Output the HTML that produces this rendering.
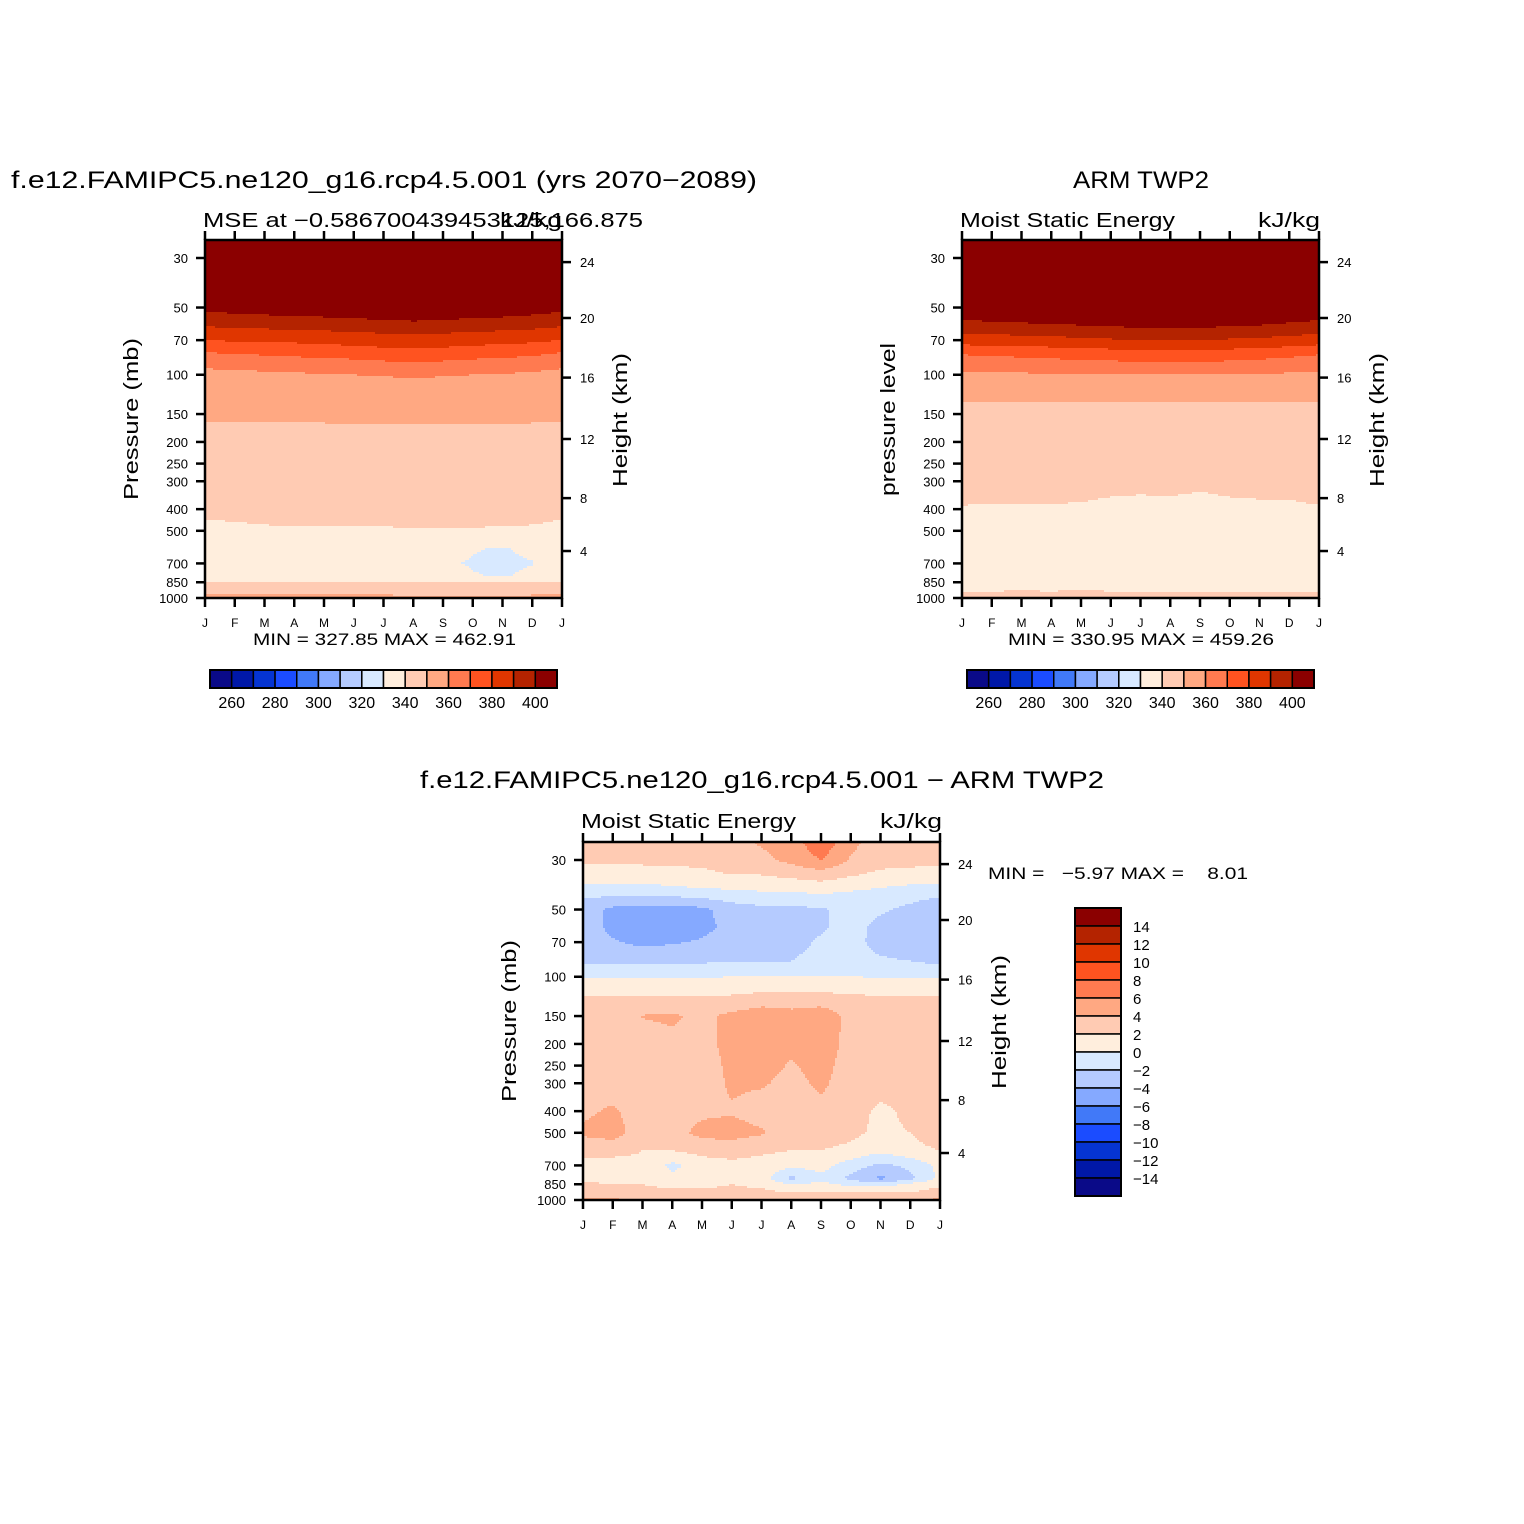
<!DOCTYPE html>
<html><head><meta charset="utf-8"><style>
html,body{margin:0;padding:0;background:#fff;}
svg{display:block;}
text{font-family:"Liberation Sans","DejaVu Sans",sans-serif;fill:#000;}
</style></head><body>
<svg id="root" width="1524" height="1524" viewBox="0 0 1524 1524" xmlns="http://www.w3.org/2000/svg">
<rect width="1524" height="1524" fill="#fff"/>
<text x="11" y="188" font-size="24" textLength="746" lengthAdjust="spacingAndGlyphs">f.e12.FAMIPC5.ne120_g16.rcp4.5.001 (yrs 2070−2089)</text>
<text x="203" y="227" font-size="20" textLength="440" lengthAdjust="spacingAndGlyphs">MSE at −0.586700439453125,166.875</text>
<text x="500" y="227" font-size="20" textLength="62" lengthAdjust="spacingAndGlyphs">kJ/kg</text>
<text x="0" y="0" font-size="20" textLength="162" lengthAdjust="spacingAndGlyphs" transform="translate(138,500) rotate(-90)">Pressure (mb)</text>
<text x="0" y="0" font-size="20" textLength="134" lengthAdjust="spacingAndGlyphs" transform="translate(627,487) rotate(-90)">Height (km)</text>
<text x="253" y="645" font-size="17" textLength="263" lengthAdjust="spacingAndGlyphs">MIN = 327.85 MAX = 462.91</text>
<text x="1073" y="188" font-size="24" textLength="136" lengthAdjust="spacingAndGlyphs">ARM TWP2</text>
<text x="960" y="227" font-size="20" textLength="215" lengthAdjust="spacingAndGlyphs">Moist Static Energy</text>
<text x="1258" y="227" font-size="20" textLength="62" lengthAdjust="spacingAndGlyphs">kJ/kg</text>
<text x="0" y="0" font-size="20" textLength="153" lengthAdjust="spacingAndGlyphs" transform="translate(895,496) rotate(-90)">pressure level</text>
<text x="0" y="0" font-size="20" textLength="134" lengthAdjust="spacingAndGlyphs" transform="translate(1384,487) rotate(-90)">Height (km)</text>
<text x="1008" y="645" font-size="17" textLength="266" lengthAdjust="spacingAndGlyphs">MIN = 330.95 MAX = 459.26</text>
<text x="420" y="788" font-size="24" textLength="684" lengthAdjust="spacingAndGlyphs">f.e12.FAMIPC5.ne120_g16.rcp4.5.001 − ARM TWP2</text>
<text x="581" y="828" font-size="20" textLength="215" lengthAdjust="spacingAndGlyphs">Moist Static Energy</text>
<text x="880" y="828" font-size="20" textLength="62" lengthAdjust="spacingAndGlyphs">kJ/kg</text>
<text x="0" y="0" font-size="20" textLength="162" lengthAdjust="spacingAndGlyphs" transform="translate(516,1102) rotate(-90)">Pressure (mb)</text>
<text x="0" y="0" font-size="20" textLength="134" lengthAdjust="spacingAndGlyphs" transform="translate(1006,1089) rotate(-90)">Height (km)</text>
<text x="988" y="879" font-size="17" textLength="260" lengthAdjust="spacingAndGlyphs" xml:space="preserve">MIN =   −5.97 MAX =    8.01</text>
<g id="layer"></g>
</svg>
<script>
const NS="http://www.w3.org/2000/svg";
const months=["J","F","M","A","M","J","J","A","S","O","N","D","J"];
const pTicks=[30,50,70,100,150,200,250,300,400,500,700,850,1000];
const hTicks=[4,8,12,16,20,24];
const hTickP=[616,357,194,103,55.7,31.3];
const colors=["#0a0a88","#0018a8","#0534d2","#1b4cff","#4179f8","#85a9ff","#b5cbff","#d8e9ff","#ffeedd","#ffcbb3","#ffa882","#ff7a50","#ff5320","#e03600","#b42300","#8b0000"];
const mseBounds=[260,270,280,290,300,310,320,330,340,350,360,370,380,390,400];
const mseLabels=["260","280","300","320","340","360","380","400"];
const diffBounds=[-14,-12,-10,-8,-6,-4,-2,0,2,4,6,8,10,12,14];
const diffLabels=["14","12","10","8","6","4","2","0","−2","−4","−6","−8","−10","−12","−14"];

const levelsA=[25,30,40,50,60,70,80,90,100,125,150,200,300,400,500,600,700,800,850,925,1000];
const model=[
[470,470,470,470,470,470,470,470,470,470,470,470,470],
[450,450,450,450,450,450,450,450,450,450,450,450,450],
[425,425,425,425,425,425,426,426,426,425,425,425,425],
[403,404,405,406,407,408,409,410,409,408,407,405,403],
[391,392,393,393,394,395,396,397,396,395,394,393,391],
[380,381,381,382,383,384,385,386,385,384,383,382,380],
[369.5,370.5,371.5,372.5,373.5,374.5,376,377,376,374.5,373.5,372,369.5],
[362,362.8,363.6,364.5,365.3,366,367.3,368,367.3,366,365.3,364,362],
[357,357.6,358.2,358.8,359.4,360,360.6,361,360.6,360,359.4,358.5,357],
[353,353.2,353.3,353.4,353.5,353.6,353.8,354,353.8,353.7,353.5,353.3,353],
[350.6,350.7,350.7,350.7,350.8,350.9,351,351,351,350.9,350.9,350.8,350.6],
[348.3,348.3,348.3,348.3,348.3,348.3,348.3,348.3,348.3,348.3,348.3,348.3,348.3],
[344.5,344.5,344.5,344.5,344.5,344.5,344.5,344.5,344.5,344.5,344.5,344.5,344.5],
[341,341.4,341.8,342,341.9,342,342.2,342.2,342.6,342.6,342.5,342.1,341],
[338.8,339,339.3,339.5,339.4,339.4,339.5,339.6,339.5,339.5,339.4,339.2,338.8],
[336,336,336,336,336,336,335,334,333,330.3,329.6,331,336],
[333.5,333.5,333,333,333,333,332,329.9,330.5,329.6,329.2,329.8,333.5],
[337,337,336.5,336.5,336.5,336.5,336,335,333,330.3,329.6,331,337],
[340.3,340.5,340.5,340.4,340.5,340.4,340.2,340,339.8,339.9,340,340.1,340.4],
[346,346,346,346,346,346,345,343,343,343,343,344,346],
[356,355.5,355.5,355.5,355.5,355,354,353,353,353,353,354,356]];

const obs=[
[470,470,470,470,470,470,470,470,470,470,470,470,470],
[450,450,450,450,450,450,450,450,450,450,450,450,450],
[425,425,425,425,426,426,427,427,427,426,426,425,425],
[410,411,412,413,414,415,416,416,416,415,414,412,410],
[396,397,398,399,400,401,402,402,402,401,400,398,396],
[385,386,386,387,388,389,390,390,390,389,388,387,385],
[371,372,373,374,375,376,377,377,377,376,375,373,371],
[364,364,365,366,366,367,368,368,368,367,366,365,364],
[358.5,358.7,358.9,359,359.2,359.5,359.8,360,359.8,359.5,359.2,358.9,358.5],
[350.5,350.5,350.5,350.5,350.5,350.5,350.5,350.5,350.5,350.5,350.5,350.5,350.5],
[349,349,349,349,349,349,349,349,349,349,349,349,349],
[347,347,347,347,347,347,347,347,347,347,347,347,347],
[343,342.8,342.6,342.7,342.4,341.6,341.4,341.6,341,341.7,341.8,341.8,343],
[339.5,339.4,339.3,339.4,339.2,338.7,338.5,338.6,338.3,338.7,339,339,339.5],
[338,338,338,338,338,338,338,338,338,338,338,338,338],
[337,337,337,337,337,337,337,337,337,337,337,337,337],
[336,336,336,336,336,336,336,336,336,336,336,336,336],
[337,337,337,337,337,337,337,337,337,337,337,337,337],
[338,338,338,338,338,338,338,338,338,338,338,338,338],
[339.7,339.8,339.9,339.8,340,339.8,339.8,339.8,339.7,339.8,339.8,339.7,339.7],
[342,342,342,342,342,342,342,342,342,342,342,342,342]];

const levelsC=[25,30,35,40,45,50,60,70,85,95,110,130,150,200,300,400,500,600,700,800,850,925,1000];
const diff=[
[3,3,3,3,3,3.5,4.2,5,7.5,4.5,3,3,3],
[2.5,2.5,2.5,2.5,2.6,3,3.5,4.5,6,3.8,2.8,2.5,2.5],
[1,1,1,1.2,1.5,2,2,2.5,3,2.2,1.5,1.5,1],
[-0.5,-0.5,-0.5,-0.2,0,0.3,0.5,0.6,1,0.5,0,-0.5,-0.5],
[-2.2,-2.5,-2.6,-2.6,-2.2,-1.5,-1.2,-1.2,-0.8,-1.2,-1.5,-1.8,-2.2],
[-3,-4.5,-5,-5,-4.5,-3,-2.5,-2.5,-2.2,-1.5,-1.8,-2.3,-2.5],
[-3,-4.5,-5,-5,-4.5,-3.5,-2.6,-2.5,-2.2,-1.5,-2.4,-3.5,-3],
[-3,-3.8,-4.5,-4.2,-3.8,-3,-2.5,-2.5,-1.8,-1.5,-2.5,-3,-3],
[-2.5,-2.5,-2.5,-2.5,-2.3,-2.2,-2.1,-2,-1.5,-1.5,-1.8,-2,-2.5],
[-1,-1,-1,-1,-0.8,-0.5,-0.3,-0.3,-0.3,-0.5,-0.7,-0.8,-1],
[1,1,1,1,1,1,1,1,1,1,1,1,1],
[2.6,2.6,2.6,2.6,2.6,2.8,3.5,3.5,3.5,3,2.6,2.6,2.6],
[3,3,4.1,4.3,3.5,4.5,5,4.5,5,3.5,3,3,3],
[3,3,3,3.5,3.5,4.5,5,4.3,4.8,3.5,3,3,3],
[3,3,3,3,3,4.3,4.2,3.5,4.3,3.2,3,3,3],
[3.6,4.3,3,3,3.6,3.8,3.2,3,3.6,3,1.5,2.5,3],
[4.4,4.8,3,3.2,4.6,4.8,4.2,3,3,2.5,1.5,2,3],
[2.5,2.8,2,2,2.7,2.8,2.4,2,2,1.5,0.5,1.5,2],
[1.5,1,1.5,-0.5,1,1.5,1.2,0.5,0.8,-1,-2.5,-1.5,0.5],
[1.5,0.8,1.5,0.5,1,1.5,1,-2.5,-0.5,-2.5,-4.5,-2.5,0.5],
[2.5,2,2,1.5,1.5,2,1.5,0,0.5,-0.5,-1,0.5,1.5],
[3,2.5,2.5,2.5,2.5,2.5,2.5,2,2,2,2,2,3],
[4.5,4.5,3,3,3,3,3,3,3,3,3,3,4.5]];

const W=357,H=358,L30=Math.log10(30),SPAN=3-L30;
function yOfP(top,p){return top+18+(Math.log10(p)-L30)/SPAN*340;}
function pOfY(top,y){return Math.pow(10,L30+(y-top-18)/340*SPAN);}
function xOfM(x0,m){return x0+m/12*W;}
function binOf(v,b){let i=0;while(i<b.length&&v>=b[i])i++;return i;}
function sample(levels,vals,m,p){
  const lp=Math.log10(p);let k=0;
  if(p<=levels[0])k=0;else{while(k<levels.length-2&&levels[k+1]<p)k++;}
  const l0=Math.log10(levels[k]),l1=Math.log10(levels[k+1]);
  let t=(lp-l0)/(l1-l0);t=Math.max(0,Math.min(1,t));
  const i=Math.min(11,Math.floor(m));const s=m-i;
  const a=vals[k][i]*(1-s)+vals[k][i+1]*s;
  const b=vals[k+1][i]*(1-s)+vals[k+1][i+1]*s;
  return a*(1-t)+b*t;}
const layer=document.getElementById('layer');
function mk(tag,attrs,parent){const e=document.createElementNS(NS,tag);for(const k in attrs)e.setAttribute(k,attrs[k]);(parent||layer).appendChild(e);return e;}

function panel(id,x0,top,levels,vals,bounds){
  const g=mk('g',{});
  
  
  const st=2;
  function emit(a,b,y,c){
    const r=mk('rect',{x:x0+a,y:top+y,width:b-a+0.6,height:st+0.6,fill:colors[c]},g);
    
    
  }
  for(let y=0;y<H;y+=st){
    const p=pOfY(top,top+y+st/2);
    let runStart=0,runC=-1;
    for(let x=0;x<W;x+=st){
      const m=Math.min(12,(x+st/2)/W*12);
      const c=binOf(sample(levels,vals,m,p),bounds);
      if(c!==runC){
        if(runC>=0)emit(runStart,x,y,runC);
        runStart=x;runC=c;}
    }
    if(runC>=0)emit(runStart,W,y,runC);
  }
  const f=mk('rect',{x:x0,y:top,width:W,height:H,fill:'none',stroke:'#000','stroke-width':2.5});
  
  
  months.forEach((lab,i)=>{
    const x=xOfM(x0,i);
    mk('line',{x1:x,x2:x,y1:top,y2:top-9,stroke:'#000','stroke-width':2.5});
    mk('line',{x1:x,x2:x,y1:top+H,y2:top+H+9,stroke:'#000','stroke-width':2.5});
    const t=mk('text',{x:x,y:top+H+29,'font-size':12,'text-anchor':'middle'});
    t.textContent=lab;
    
    
  });
  pTicks.forEach(p=>{
    const y=yOfP(top,p);
    mk('line',{x1:x0,x2:x0-9,y1:y,y2:y,stroke:'#000','stroke-width':2.5});
    const t=mk('text',{x:x0-17,y:y+5,'font-size':13,'text-anchor':'end'});
    t.textContent=String(p);
    
    
  });
  hTicks.forEach((h,i)=>{
    const y=yOfP(top,hTickP[i]);
    mk('line',{x1:x0+W,x2:x0+W+9,y1:y,y2:y,stroke:'#000','stroke-width':2.5});
    const t=mk('text',{x:x0+W+18,y:y+5,'font-size':13});
    t.textContent=String(h);
    
    
  });
}
panel('panel1',205,240,levelsA,model,mseBounds);
panel('panel2',962,240,levelsA,obs,mseBounds);
panel('panel3',583,842,levelsC,diff,diffBounds);

function hbar(id,x0,y0){
  const bw=(557-210)/16;
  colors.forEach((c,i)=>{
    const r=mk('rect',{x:x0+i*bw,y:y0,width:bw,height:18,fill:c,stroke:'#000','stroke-width':1.5});
    
    
  });
  mk('rect',{x:x0,y:y0,width:bw*16,height:18,fill:'none',stroke:'#000','stroke-width':2});
  mseLabels.forEach((lab,i)=>{
    const t=mk('text',{x:x0+bw*(1+2*i),y:y0+38,'font-size':16,'text-anchor':'middle'});
    t.textContent=lab;
    
    
  });
}
hbar('panel1',210,670);
hbar('panel2',967,670);

(function(){
  const x0=1075,y0=908,bh=18;
  for(let i=0;i<16;i++){
    const r=mk('rect',{x:x0,y:y0+i*bh,width:46,height:bh,fill:colors[15-i],stroke:'#000','stroke-width':1.5});
    
    
  }
  mk('rect',{x:x0,y:y0,width:46,height:bh*16,fill:'none',stroke:'#000','stroke-width':2});
  diffLabels.forEach((lab,i)=>{
    const t=mk('text',{x:x0+58,y:y0+bh*(i+1)+6,'font-size':15});
    t.textContent=lab;
    
    
  });
})();
</script>
</body></html>
